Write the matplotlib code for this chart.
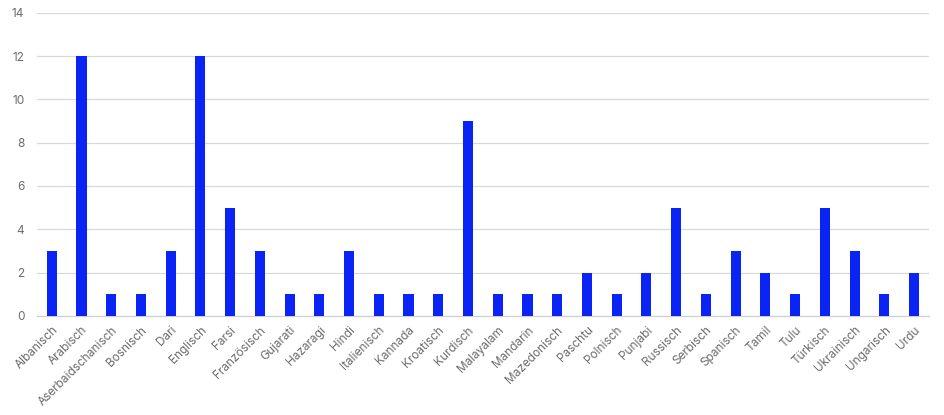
import matplotlib
matplotlib.use("Agg")
import matplotlib.pyplot as plt
import numpy as np

categories = ["Albanisch", "Arabisch", "Aserbaidschanisch", "Bosnisch", "Dari", "Englisch",
              "Farsi", "Französisch", "Gujarati", "Hazaragi", "Hindi", "Italienisch", "Kannada",
              "Kroatisch", "Kurdisch", "Malayalam", "Mandarin", "Mazedonisch", "Paschtu",
              "Polnisch", "Punjabi", "Russisch", "Serbisch", "Spanisch", "Tamil", "Tulu",
              "Türkisch", "Ukrainisch", "Ungarisch", "Urdu"]
values = [3, 12, 1, 1, 3, 12, 5, 3, 1, 1, 3, 1, 1, 1, 9, 1, 1, 1, 2, 1, 2, 5, 1, 3, 2, 1, 5, 3, 1, 2]
yticks = [0, 2, 4, 6, 8, 10, 12, 14]

plt.rcParams['font.family'] = ['Inter', 'DejaVu Sans']

fig = plt.figure(figsize=(9.45, 4.15), dpi=100)
ax = fig.add_axes([0.039, 0.239, 0.944, 0.730])
x = np.arange(len(categories))
ax.bar(x, values, width=0.34, color="#0A24F5", zorder=3)
ax.set_xlim(-0.5, len(categories) - 0.5)
ax.set_ylim(0, 14)
ax.set_yticks(yticks)
ax.set_xticks(x)
ax.set_xticklabels(categories, rotation=45, ha="right", rotation_mode="anchor")
ax.tick_params(axis="both", length=0, colors="#6b6b6b", labelsize=8.5)
ax.tick_params(axis="x", pad=6)
ax.tick_params(axis="y", pad=9)
ax.grid(axis="y", color="#d9d9d9", linewidth=0.9, zorder=0)
for s in ["top", "right", "left"]:
    ax.spines[s].set_visible(False)
ax.spines["bottom"].set_color("#d0d0d8")
ax.spines["bottom"].set_linewidth(0.9)
fig.savefig("out.png", dpi=100, facecolor="white")
